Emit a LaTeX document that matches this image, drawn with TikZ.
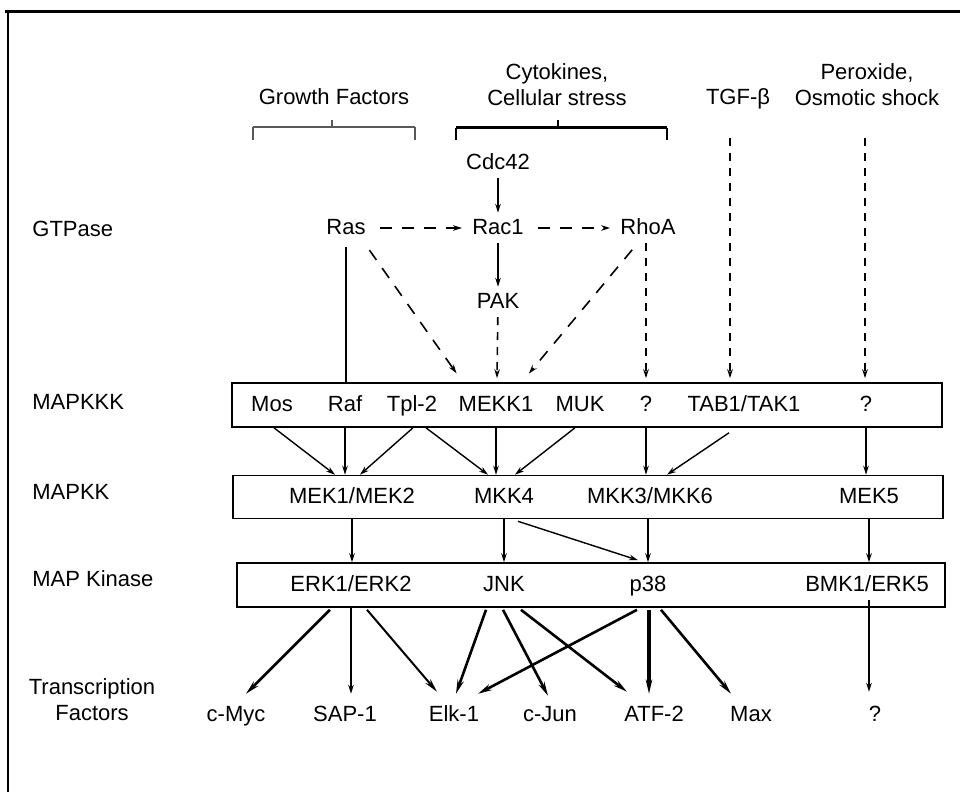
\documentclass[tikz,border=0pt]{standalone}
\usepackage{fontspec}
\setmainfont{Liberation Sans}
\usetikzlibrary{arrows.meta,calc}
\tikzset{
  >={Stealth[length=4.5pt,width=2.8pt]},
  lvl/.style={anchor=west},
  two/.style={align=center,text height=,text depth=},
  row/.style={draw,line width=0.8pt,minimum height=22pt,inner sep=0pt,text height=,text depth=},
  arr/.style={->,line width=0.7pt},
  tarr/.style={-{Stealth[length=7pt,width=3.2pt]},line width=1.3pt},
  darr/.style={->,line width=0.8pt,dash pattern=on 6pt off 5pt,shorten <=5pt,shorten >=3pt},
  varr/.style={->,line width=0.8pt,dash pattern=on 4pt off 3.5pt},
  brk/.style={line width=0.6pt},
}

\begin{document}
\begin{tikzpicture}[x=0.5pt,y=-0.5pt,every node/.style={font=\fontsize{11}{13}\selectfont,inner sep=2pt,text height=1.6ex,text depth=0.45ex}]
\useasboundingbox (0,0) rectangle (960,792);
% frame
\draw[line width=1.5pt] (5,12) -- (960,12);
\draw[line width=1.3pt] (8,12) -- (8,792);
% stimuli
\node (gf) at (334,98) {Growth Factors};
\node[two] (cyt) at (557,85) {Cytokines,\\Cellular stress};
\node (tgf) at (738,98) {TGF-β};
\node[two] (perox) at (867,85) {Peroxide,\\Osmotic shock};
\draw[brk,gray!70!black] (253,127) -- (415,127) (332,127) -- (332,120) (253,127) -- (253,140) (415,127) -- (415,140);
\draw[line width=1.5pt] (456,128) -- (667,128);
\draw[brk] (558,128) -- (558,120) (456,128) -- (456,140) (667,128) -- (667,140);
% level labels
\node[lvl] (lgtp) at (28,230) {GTPase};
\node[lvl] (lkkk) at (28,403) {MAPKKK};
\node[lvl] (lkk) at (28,493) {MAPKK};
\node[lvl] (lk) at (28,580) {MAP Kinase};
\node[two] (ltf) at (92,700) {Transcription\\Factors};
% GTPases
\node (cdc) at (498,163) {Cdc42};
\node (ras) at (346,228) {Ras};
\node (rac) at (498,228) {Rac1};
\node (rho) at (648,228) {RhoA};
\node (pak) at (498,302) {PAK};
% rows
\node[row,minimum width=355pt] (kkk) at (587,405) {};
\node[row,minimum width=355pt,minimum height=21.5pt] (kk) at (588,497) {};
\node[row,minimum width=354pt] (k) at (591,585) {};
% MAPKKK
\node (mos) at (272,405) {Mos};
\node (raf) at (345,405) {Raf};
\node (tpl) at (412,405) {Tpl-2};
\node (mekk) at (496,405) {MEKK1};
\node (muk) at (580,405) {MUK};
\node (q1) at (646,405) {?};
\node (tab) at (744,405) {TAB1/TAK1};
\node (q2) at (866,405) {?};
% MAPKK
\node (mek) at (352,497) {MEK1/MEK2};
\node (mkk4) at (504,497) {MKK4};
\node (mkk3) at (650,497) {MKK3/MKK6};
\node (mek5) at (869,497) {MEK5};
% MAPK
\node (erk) at (351,585) {ERK1/ERK2};
\node (jnk) at (504,585) {JNK};
\node (p38) at (648,585) {p38};
\node (bmk) at (867,585) {BMK1/ERK5};
% transcription factors
\node (myc) at (236,715) {c-Myc};
\node (sap) at (345,715) {SAP-1};
\node (elk) at (454,715) {Elk-1};
\node (jun) at (550,715) {c-Jun};
\node (atf) at (654,715) {ATF-2};
\node (max) at (751,715) {Max};
\node (q3) at (875,715) {?};
% GTPase links
\draw[arr] (cdc) -- (rac);
\draw[arr] (rac) -- (pak);
\draw[darr] (ras) -- (rac);
\draw[darr] (rac) -- (rho);
\draw[line width=0.8pt] ($(ras.south)+(0,4)$) -- (ras.south |- kkk.north);
\draw[darr,shorten <=3pt] ($(ras.south east)+(-4,2)$) -- ($(mekk |- kkk.north)+(-36,-4)$);
\draw[varr] (pak) -- ($(mekk |- kkk.north)+(1,-4)$);
\draw[darr,shorten <=3pt] ($(rho.south)+(-12,2)$) -- ($(mekk |- kkk.north)+(29,-4)$);
\draw[varr] (rho.south -| q1) -- ($(q1 |- kkk.north)+(0,-4)$);
\coordinate (tgf0) at (730,138);
\coordinate (per0) at (865,138);
\draw[varr] (tgf0) -- ($(tgf0 |- kkk.north)+(0,-4)$);
\draw[varr] (per0) -- ($(per0 |- kkk.north)+(0,-4)$);
% MAPKKK to MAPKK
\draw[arr] ($(mos |- kkk.south)+(2,0)$) -- ($(mek |- kk.north)+(-17,0)$);
\draw[arr] (raf |- kkk.south) -- (raf |- kk.north);
\draw[arr] ($(tpl |- kkk.south)+(1,0)$) -- ($(mek |- kk.north)+(8,0)$);
\draw[arr] ($(tpl |- kkk.south)+(14,0)$) -- ($(mkk4 |- kk.north)+(-16,0)$);
\draw[arr] (mekk |- kkk.south) -- (mekk |- kk.north);
\draw[arr] ($(muk |- kkk.south)+(-5,0)$) -- ($(mkk4 |- kk.north)+(11,0)$);
\draw[arr] (q1 |- kkk.south) -- (q1 |- kk.north);
\draw[arr] ($(tab |- kkk.south)+(-15,5)$) -- ($(mkk3 |- kk.north)+(17,0)$);
\draw[arr] (q2 |- kkk.south) -- (q2 |- kk.north);
% MAPKK to MAPK
\draw[arr] (mek |- kk.south) -- (mek |- k.north);
\draw[arr] (mkk4 |- kk.south) -- (mkk4 |- k.north);
\draw[arr] ($(mkk4 |- kk.south)+(14,2)$) -- ($(p38 |- k.north)+(-10,-2)$);
\draw[arr] (p38 |- kk.south) -- (p38 |- k.north);
\draw[arr] (mek5 |- kk.south) -- (mek5 |- k.north);
% MAPK to transcription factors
\draw[tarr] ($(erk |- k.south)+(-21,2)$) -- ($(myc.north)+(10,-6)$);
\draw[arr] (erk |- k.south) -- ($(sap.north)+(6,-6)$);
\draw[tarr,line width=1pt] ($(erk |- k.south)+(16,2)$) -- ($(elk.north)+(-17,-8)$);
\draw[tarr] ($(jnk |- k.south)+(-18,2)$) -- ($(elk.north)+(2,-6)$);
\draw[tarr] ($(jnk |- k.south)+(-1,2)$) -- ($(jun.north)+(-2,-4)$);
\draw[tarr] ($(jnk |- k.south)+(17,2)$) -- ($(atf.north)+(-27,-8)$);
\draw[tarr] ($(p38 |- k.south)+(-11,2)$) -- ($(elk.north)+(24,-6)$);
\draw[tarr,line width=1.6pt] ($(p38 |- k.south)+(1,2)$) -- ($(atf.north)+(-5,-6)$);
\draw[tarr] ($(p38 |- k.south)+(13,2)$) -- ($(max.north)+(-20,-6)$);
\draw[arr] (bmk.south -| mek5) -- ($(mek5 |- q3.north)+(0,-8)$);
\end{tikzpicture}
\end{document}
